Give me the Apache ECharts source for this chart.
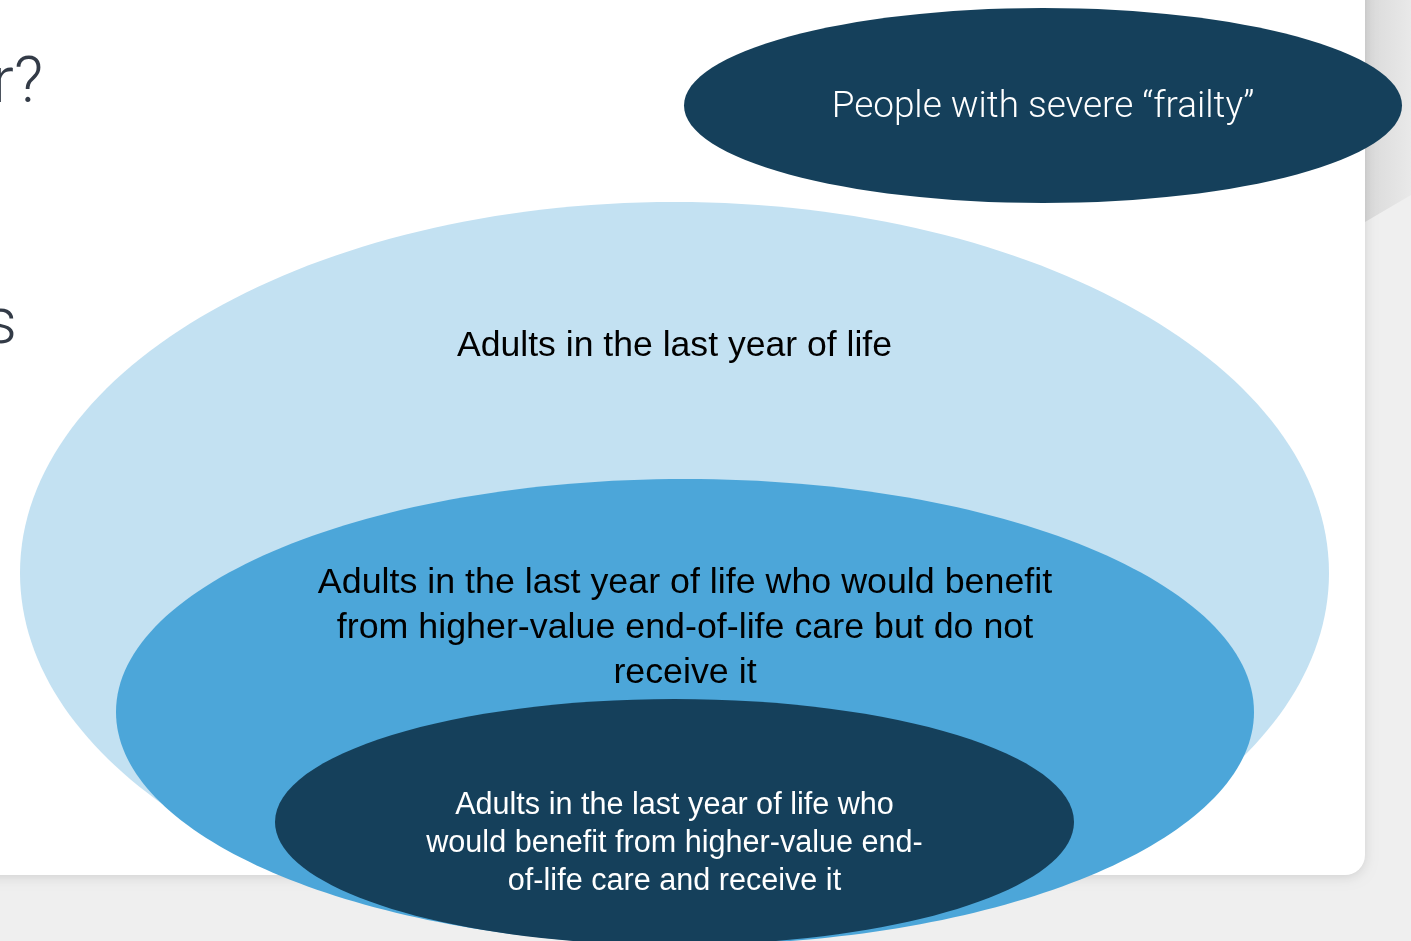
<!DOCTYPE html>
<html>
<head>
<meta charset="utf-8">
<title>Adults in the last year of life</title>
<script src="https://cdn.jsdelivr.net/npm/echarts@6/dist/echarts.min.js"></script>
<style>
  html, body { margin: 0; padding: 0; background: #efefef; }
  #chart { width: 1411px; height: 941px; }
</style>
</head>
<body>
<div id="chart"></div>
<script>
// Nested population groups, drawn as ellipses in diagram units (0..1411 x 0..941)
const groupNames = [
  'Adults in the last year of life',
  'Adults in the last year of life who would benefit\nfrom higher-value end-of-life care but do not\nreceive it',
  'Adults in the last year of life who\nwould benefit from higher-value end-\nof-life care and receive it',
  'People with severe \u201cfrailty\u201d'
];
const centerX = [674.5, 685, 674.5, 1043];
const centerY = [573, 712, 822, 105.5];
const radiusX = [654.5, 569, 399.5, 359];
const radiusY = [371, 233, 123, 97.5];
const labelY = [346, 628, 844, 108];

const fills = ['#c3e1f2', '#4ca6d9', '#15405b', '#15405b'];
const textColors = ['#000000', '#000000', '#ffffff', '#ffffff'];
const fontSizes = [35.6, 35.8, 30.6, 36.9];
const lineHeights = [45, 45, 38, 40];
const fontFamilies = ['"Liberation Sans", Arial, sans-serif', '"Liberation Sans", Arial, sans-serif',
                      '"Liberation Sans", Arial, sans-serif', 'Roboto, "Liberation Sans", sans-serif'];
const fontWeights = ['normal', 'normal', 'normal', 300];

const seriesData = groupNames.map((n, i) => [centerX[i], centerY[i], radiusX[i], radiusY[i], labelY[i]]);

const chart = echarts.init(document.getElementById('chart'), null, { renderer: 'canvas' });

chart.setOption({
  backgroundColor: '#efefef',
  animation: false,
  grid: { left: 0, right: 0, top: 0, bottom: 0 },
  xAxis: { type: 'value', min: 0, max: 1411, show: false },
  yAxis: { type: 'value', min: 0, max: 941, inverse: true, show: false },
  graphic: [
    // shadow of the neighbouring card at the top right
    {
      type: 'polygon', z: 0,
      shape: { points: [[1365, 0], [1411, 0], [1411, 195], [1365, 222]] },
      style: {
        fill: new echarts.graphic.LinearGradient(0, 0, 1, 0, [
          { offset: 0, color: '#d9d9d9' }, { offset: 1, color: '#e9e9e9' }
        ])
      }
    },
    // white slide card
    {
      type: 'rect', z: 1,
      shape: { x: -40, y: -40, width: 1405, height: 915, r: 20 },
      style: { fill: '#ffffff', shadowBlur: 12, shadowColor: 'rgba(0,0,0,0.13)', shadowOffsetY: 2 }
    },
    // cut-off slide text at the left edge
    {
      type: 'text', z: 2, x: 43, y: 86,
      style: { text: 'r?', fill: '#333b47', font: '300 64px Roboto, "Liberation Sans", sans-serif',
               align: 'right', verticalAlign: 'middle' }
    },
    {
      type: 'text', z: 2, x: 17, y: 327,
      style: { text: 's', fill: '#333b47', font: '300 64px Roboto, "Liberation Sans", sans-serif',
               align: 'right', verticalAlign: 'middle' }
    }
  ],
  series: [{
    type: 'custom',
    z: 5,
    coordinateSystem: 'cartesian2d',
    data: seriesData,
    renderItem: function (params, api) {
      const i = params.dataIndex;
      const c = api.coord([api.value(0), api.value(1)]);
      const edge = api.coord([api.value(0) + api.value(2), api.value(1) + api.value(3)]);
      const lab = api.coord([api.value(0), api.value(4)]);
      return {
        type: 'group',
        children: [
          {
            type: 'ellipse',
            shape: { cx: c[0], cy: c[1], rx: edge[0] - c[0], ry: edge[1] - c[1] },
            style: { fill: fills[i] }
          },
          {
            type: 'text',
            x: lab[0], y: lab[1],
            style: {
              text: groupNames[i],
              fill: textColors[i],
              fontSize: fontSizes[i],
              fontFamily: fontFamilies[i],
              fontWeight: fontWeights[i],
              lineHeight: lineHeights[i],
              align: 'center',
              verticalAlign: 'middle'
            }
          }
        ]
      };
    }
  }]
});
</script>
</body>
</html>
